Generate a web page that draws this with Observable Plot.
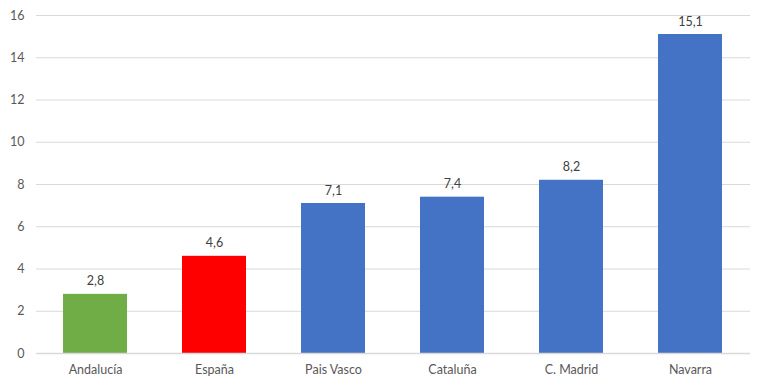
<!DOCTYPE html>
<html><head><meta charset="utf-8">
<script src="https://cdn.jsdelivr.net/npm/d3@7"></script>
<script src="https://cdn.jsdelivr.net/npm/@observablehq/plot@0.6"></script>
<style>body{margin:0;background:#fff}</style>
</head><body><div id="chart"></div>
<script>
const categories = ["Andalucía","España","Pais Vasco","Cataluña","C. Madrid","Navarra"];
const values = [2.8, 4.6, 7.1, 7.4, 8.2, 15.1];
const colors = ["#70ad47","#ff0000","#4472c4","#4472c4","#4472c4","#4472c4"];
const yTicks = [0,2,4,6,8,10,12,14,16];
const data = categories.map((c,i)=>({cat:c, v:values[i], col:colors[i]}));
const fmt = v => v.toFixed(1).replace(".", ",");
const chart = Plot.plot({
  width:768, height:388,
  marginLeft:36, marginRight:18, marginTop:15, marginBottom:35,
  style:{fontFamily:"Lato, 'Liberation Sans', sans-serif", fontSize:"12.5px", color:"#595959", background:"#fff"},
  x:{domain:categories, paddingInner:0.46, paddingOuter:0.23, label:null, tickSize:0, tickPadding:12},
  y:{domain:[0,16], ticks:yTicks, label:null, tickSize:0, tickPadding:12},
  marks:[
    Plot.ruleY(yTicks, {stroke:"#d9d9d9", strokeWidth:1}),
    Plot.barY(data, {x:"cat", y:"v", fill:"col"}),
    Plot.text(data, {x:"cat", y:"v", text:d=>fmt(d.v), dy:-13, fill:"#404040", fontSize:12.5}),
    Plot.ruleY([0], {stroke:"#d9d9d9", strokeWidth:1.5})
  ]
});
document.getElementById("chart").appendChild(chart);
</script></body></html>
